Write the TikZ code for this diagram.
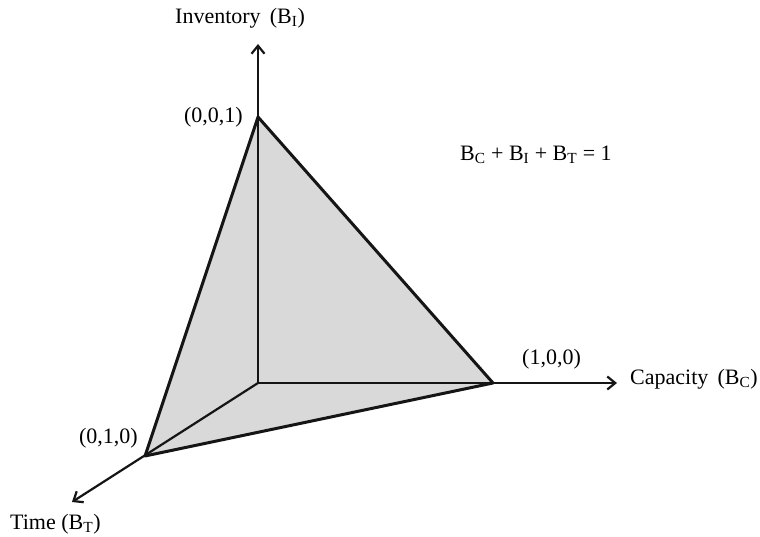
\documentclass[tikz,border=0pt]{standalone}
\usepackage{fontspec}
\setmainfont{Liberation Serif}
\usepackage{xcolor}
\usetikzlibrary{arrows.meta}
\definecolor{PlaneGrey}{HTML}{D9D9D9}
\definecolor{EdgeBlack}{HTML}{151515}

\begin{document}
\begin{tikzpicture}[x=1pt, y=1pt,
    axis/.style={draw=EdgeBlack, line width=2.2pt, -{Straight Barb[length=8pt, width=13pt, line width=2.2pt]}},
    edge/.style={draw=EdgeBlack, line width=3pt, line join=round},
    lbl/.style={font=\fontsize{22}{26}\selectfont, inner sep=0pt}]
      \useasboundingbox (0,0) rectangle (760,536);
      % corners of the plane and the axis ends
      \coordinate (Origin) at (258,153);
      \coordinate (InvTop) at (258,419);
      \coordinate (CapTop) at (493,153);
      \coordinate (TimeTop) at (145,80);
      \coordinate (InvEnd) at (258,492);
      \coordinate (CapEnd) at (617,153);
      \coordinate (TimeEnd) at (72,34);
      % plane
      \fill[PlaneGrey] (InvTop) -- (CapTop) -- (TimeTop) -- cycle;
      \draw[axis] (Origin) -- (InvEnd);
      \draw[axis] (Origin) -- (CapEnd);
      \draw[axis] (Origin) -- (TimeEnd);
      \draw[edge] (InvTop) -- (CapTop) -- (TimeTop) -- cycle;
      % labels
      \node[lbl, anchor=west] (InvName) at (175,518) {Inventory\, (B\textsubscript{I})};
      \node[lbl, anchor=east] (InvCorner) at (243,419) {(0,0,1)};
      \node[lbl, anchor=south west] (CapCorner) at (522,167) {(1,0,0)};
      \node[lbl, anchor=west] (CapName) at (630,157) {Capacity\, (B\textsubscript{C})};
      \node[lbl, anchor=east] (TimeCorner) at (138,98) {(0,1,0)};
      \node[lbl, anchor=west] (TimeName) at (10,12) {Time (B\textsubscript{T})};
      \node[lbl, anchor=west] (SumRule) at (460,381) {B\textsubscript{C} + B\textsubscript{I} + B\textsubscript{T} = 1};
    \end{tikzpicture}
\end{document}
